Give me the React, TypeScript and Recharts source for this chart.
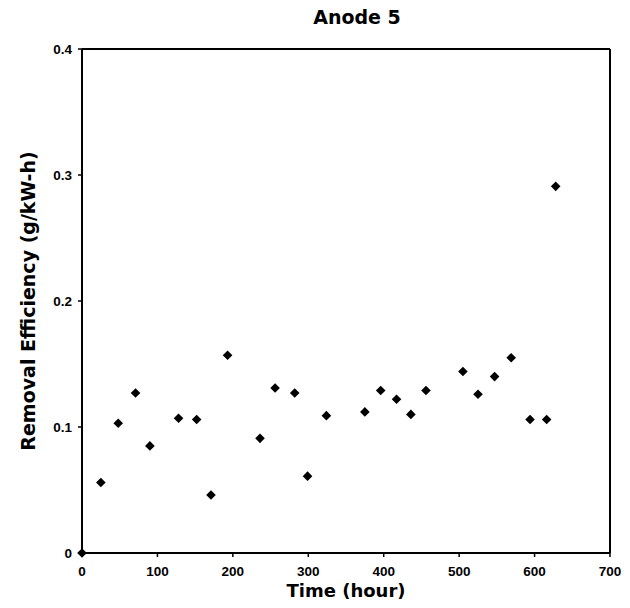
import React from "react";
import {
  ScatterChart,
  Scatter,
  XAxis,
  YAxis,
  ReferenceLine,
  Label,
} from "recharts";

const timeHours = [
  0, 25, 48, 71, 90, 128, 152, 171, 193, 236, 256, 282, 299, 324, 375, 396,
  417, 436, 456, 505, 525, 547, 569, 594, 616, 628,
];
const removalEfficiency = [
  0, 0.056, 0.103, 0.127, 0.085, 0.107, 0.106, 0.046, 0.157, 0.091, 0.131,
  0.127, 0.061, 0.109, 0.112, 0.129, 0.122, 0.11, 0.129, 0.144, 0.126, 0.14,
  0.155, 0.106, 0.106, 0.291,
];
const xTicks = [0, 100, 200, 300, 400, 500, 600, 700];
const yTicks = [0, 0.1, 0.2, 0.3, 0.4];
const yTickLabels = ["0", "0.1", "0.2", "0.3", "0.4"];

const data = timeHours.map((t, i) => ({ t, e: removalEfficiency[i] }));

const FONT = "'Liberation Sans', Arial, sans-serif";
const LABEL_FONT = "'DejaVu Sans', 'Liberation Sans', sans-serif";

const Diamond = (props: any) => {
  const { cx, cy } = props;
  if (cx == null || cy == null) return null;
  const r = 4.8;
  return (
    <path
      d={`M${cx},${cy - r}L${cx + r},${cy}L${cx},${cy + r}L${cx - r},${cy}Z`}
      fill="#000"
    />
  );
};

export default function App() {
  return (
    <div style={{ position: "absolute", left: 0, top: 0, width: 630, height: 608, background: "#fff" }}>
      <svg
        width={630}
        height={40}
        style={{ position: "absolute", left: 0, top: 0, zIndex: 2 }}
      >
        <text
          x={357}
          y={24}
          textAnchor="middle"
          fontFamily={LABEL_FONT}
          fontWeight="bold"
          fontSize={19}
          fill="#000"
        >
          Anode 5
        </text>
      </svg>
      <ScatterChart
        width={630}
        height={608}
        margin={{ top: 49, right: 20, bottom: 0, left: 0 }}
      >
        <XAxis
          type="number"
          dataKey="t"
          domain={[0, 700]}
          ticks={xTicks}
          interval={0}
          height={55}
          axisLine={{ stroke: "#000", strokeWidth: 2 }}
          tickLine={{ stroke: "#000", strokeWidth: 1.5 }}
          tickSize={4}
          tickMargin={9}
          tick={{ fill: "#000", fontSize: 13.5, fontWeight: "bold", fontFamily: FONT }}
        >
          <Label
            value="Time (hour)"
            position="insideBottom"
            offset={11}
            style={{ fill: "#000", fontSize: 18, fontWeight: "bold", fontFamily: LABEL_FONT }}
          />
        </XAxis>
        <YAxis
          type="number"
          dataKey="e"
          domain={[0, 0.4]}
          ticks={yTicks}
          interval={0}
          width={82}
          axisLine={{ stroke: "#000", strokeWidth: 2 }}
          tickLine={{ stroke: "#000", strokeWidth: 1.5 }}
          tickSize={4}
          tickMargin={6}
          tickFormatter={(v: number) => yTickLabels[yTicks.indexOf(v)] ?? String(v)}
          tick={{ fill: "#000", fontSize: 13.5, fontWeight: "bold", fontFamily: FONT }}
        >
          <Label
            value="Removal Efficiency (g/kW-h)"
            angle={-90}
            position="insideLeft"
            offset={28}
            style={{
              fill: "#000",
              fontSize: 19,
              fontWeight: "bold",
              fontFamily: LABEL_FONT,
              textAnchor: "middle",
            }}
          />
        </YAxis>
        <ReferenceLine y={0.4} stroke="#000" strokeWidth={2} ifOverflow="visible" />
        <ReferenceLine x={700} stroke="#000" strokeWidth={2} ifOverflow="visible" />
        <Scatter data={data} shape={<Diamond />} isAnimationActive={false} />
      </ScatterChart>
    </div>
  );
}
